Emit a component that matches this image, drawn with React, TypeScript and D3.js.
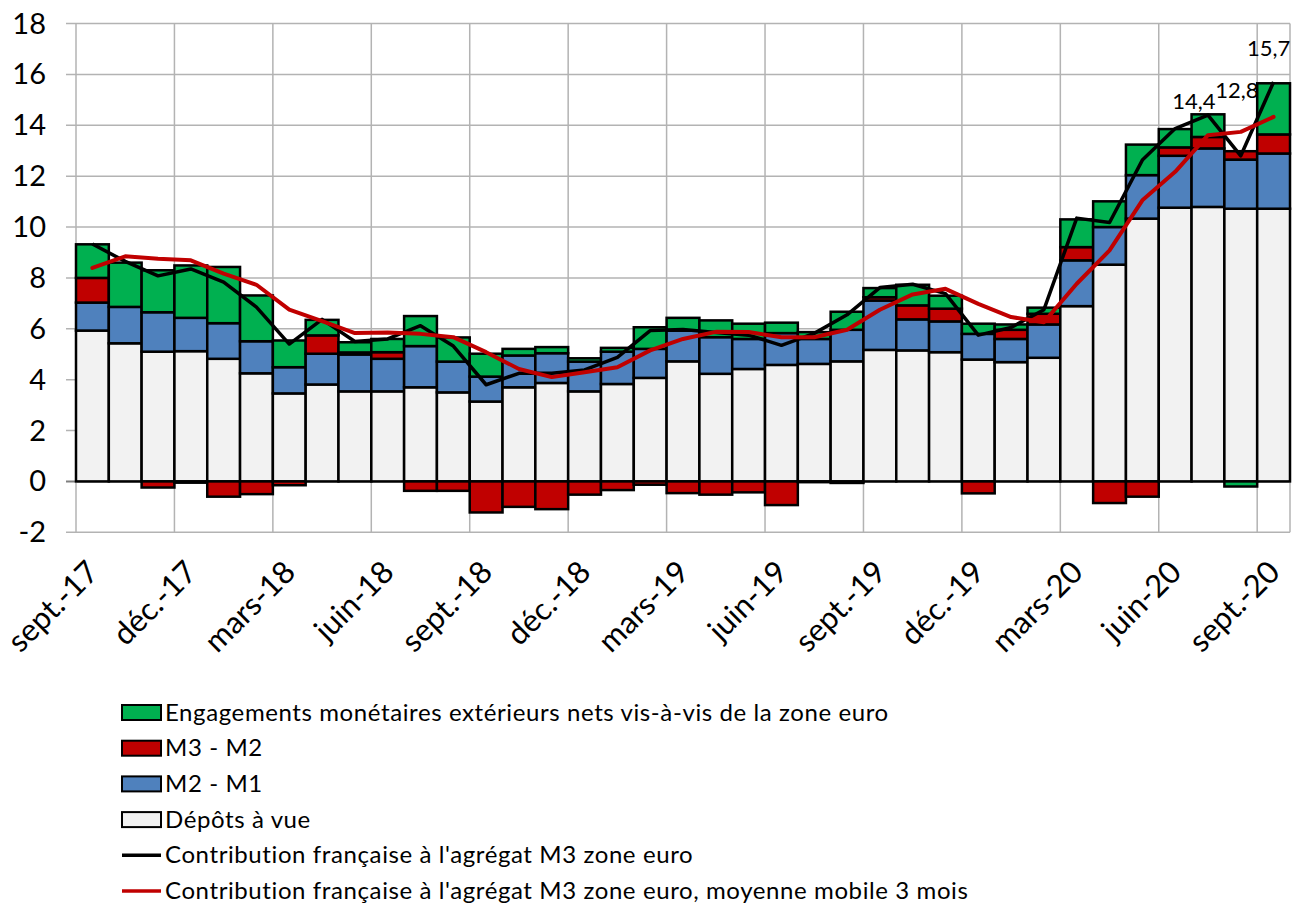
import * as d3 from 'd3';

const months = [
  'sept.-17', 'oct.-17', 'nov.-17', 'déc.-17', 'janv.-18', 'févr.-18', 'mars-18', 'avr.-18', 'mai-18',
  'juin-18', 'juil.-18', 'août-18', 'sept.-18', 'oct.-18', 'nov.-18', 'déc.-18', 'janv.-19', 'févr.-19',
  'mars-19', 'avr.-19', 'mai-19', 'juin-19', 'juil.-19', 'août-19', 'sept.-19', 'oct.-19', 'nov.-19',
  'déc.-19', 'janv.-20', 'févr.-20', 'mars-20', 'avr.-20', 'mai-20', 'juin-20', 'juil.-20', 'août-20',
  'sept.-20',
];

const depots = [
  5.93, 5.43, 5.1, 5.12, 4.82, 4.25, 3.46, 3.81, 3.54, 3.54, 3.7, 3.5, 3.14, 3.7, 3.87, 3.54, 3.83, 4.07,
  4.72, 4.23, 4.42, 4.58, 4.62, 4.72, 5.17, 5.15, 5.08, 4.79, 4.69, 4.86, 6.89, 8.52, 10.33, 10.76, 10.79,
  10.72, 10.72,
];
const m2m1 = [
  1.1, 1.43, 1.55, 1.31, 1.4, 1.26, 1.03, 1.21, 1.45, 1.28, 1.62, 1.21, 0.98, 1.25, 1.17, 1.17, 1.27, 1.14,
  1.21, 1.44, 1.18, 1.25, 0.98, 1.24, 1.94, 1.22, 1.21, 1.01, 0.91, 1.31, 1.8, 1.48, 1.71, 2.04, 2.3, 1.93,
  2.17,
];
const m3m2 = [
  0.97, 0, -0.24, -0.05, -0.6, -0.5, -0.15, 0.72, 0.08, 0.26, -0.37, -0.37, -1.22, -1.0, -1.09, -0.52, -0.34,
  -0.13, -0.46, -0.52, -0.43, -0.93, -0.03, -0.06, 0.13, 0.55, 0.5, -0.47, 0.36, 0.42, 0.52, -0.85, -0.6,
  0.33, 0.45, 0.33, 0.75,
];
const engagements = [
  1.32, 1.74, 1.65, 2.06, 2.21, 1.8, 1.05, 0.61, 0.4, 0.52, 1.18, 0.95, 0.9, 0.26, 0.24, 0.13, 0.15, 0.85,
  0.5, 0.66, 0.6, 0.41, 0.27, 0.71, 0.36, 0.81, 0.51, 0.4, 0.21, 0.24, 1.09, 1.01, 1.2, 0.72, 0.89, -0.2,
  2.01,
];
const contribM3 = [
  9.33, 8.65, 8.08, 8.35, 7.83, 6.85, 5.4, 6.37, 5.5, 5.6, 6.12, 5.32, 3.8, 4.25, 4.25, 4.38, 4.88, 5.93,
  5.97, 5.85, 5.75, 5.35, 5.82, 6.55, 7.62, 7.75, 7.38, 5.75, 6.05, 6.75, 10.35, 10.18, 12.63, 13.87, 14.4,
  12.8, 15.7,
];
const moyenne3m = [
  8.39, 8.85, 8.75, 8.69, 8.17, 7.73, 6.75, 6.3, 5.83, 5.85, 5.8, 5.67, 5.08, 4.42, 4.1, 4.29, 4.49, 5.15,
  5.6, 5.88, 5.87, 5.67, 5.67, 5.96, 6.75, 7.35, 7.57, 6.98, 6.46, 6.26, 7.77, 9.08, 11.05, 12.17, 13.61,
  13.74, 14.33,
];
const yTicks = [-2, 0, 2, 4, 6, 8, 10, 12, 14, 16, 18];
const labelled = [
  { i: 34, text: '14,4', dx: -14, dy: -6 },
  { i: 35, text: '12,8', dx: -4, dy: -58 },
  { i: 36, text: '15,7', dx: -5, dy: -26 },
];

const series = [
  { key: 'depots', values: depots, color: '#f2f2f2', label: 'Dépôts à vue' },
  { key: 'm2m1', values: m2m1, color: '#4f81bd', label: 'M2 - M1' },
  { key: 'm3m2', values: m3m2, color: '#c00000', label: 'M3 - M2' },
  { key: 'eng', values: engagements, color: '#00b050', label: 'Engagements monétaires extérieurs nets vis-à-vis de la zone euro' },
];

const FONT = 'Lato, "Open Sans", sans-serif';

export default function App() {
  const width = 1298;
  const height = 907;
  const left = 76;
  const right = 1290;
  const top = 23.5;
  const bottom = 532.3;

  const x = d3.scaleBand().domain(months).range([left, right]).padding(0);
  const y = d3.scaleLinear().domain([-2, 18]).range([bottom, top]);
  const bw = x.bandwidth();

  // stack positives up and negatives down, in series order
  const rects: { x: number; y0: number; y1: number; color: string; k: string }[] = [];
  months.forEach((m, i) => {
    let pos = 0;
    let neg = 0;
    series.forEach((s) => {
      const v = s.values[i];
      if (v === 0) return;
      if (v > 0) {
        rects.push({ x: x(m)!, y0: pos, y1: pos + v, color: s.color, k: s.key + i });
        pos += v;
      } else {
        rects.push({ x: x(m)!, y0: neg + v, y1: neg, color: s.color, k: s.key + i });
        neg += v;
      }
    });
  });

  const cx = (i: number) => x(months[i])! + bw / 2;
  const line = d3
    .line<number>()
    .x((_, i) => cx(i))
    .y((d) => y(d));

  const vGrid = months.map((_, i) => i).filter((i) => i % 3 === 0).map((i) => x(months[i])!);
  vGrid.push(right);

  const legendRows = [
    { type: 'rect', color: '#00b050', label: series[3].label },
    { type: 'rect', color: '#c00000', label: 'M3 - M2' },
    { type: 'rect', color: '#4f81bd', label: 'M2 - M1' },
    { type: 'rect', color: '#f2f2f2', label: 'Dépôts à vue' },
    { type: 'line', color: '#000000', label: "Contribution française à l'agrégat M3 zone euro" },
    { type: 'line', color: '#c00000', label: "Contribution française à l'agrégat M3 zone euro, moyenne mobile 3 mois" },
  ];

  return (
    <svg
      width={width}
      height={height}
      style={{ position: 'absolute', left: 0, top: 0, background: '#fff' }}
      fontFamily={FONT}
    >
      {/* grid */}
      {yTicks.map((t) => (
        <line key={'h' + t} x1={66} x2={right} y1={y(t)} y2={y(t)} stroke={t === 0 ? '#7f7f7f' : '#b3b3b3'} strokeWidth={t === 0 ? 2 : 1.5} />
      ))}
      {vGrid.map((gx, i) => (
        <line key={'v' + i} x1={gx} x2={gx} y1={top} y2={bottom} stroke="#b3b3b3" strokeWidth={1.5} />
      ))}
      {yTicks.map((t) => (
        <text key={'yt' + t} x={46} y={y(t) + 10} textAnchor="end" fontSize={29} fill="#000">
          {t}
        </text>
      ))}

      {/* bars */}
      {rects.map((r) => (
        <rect
          key={r.k}
          x={r.x}
          width={bw}
          y={y(r.y1)}
          height={y(r.y0) - y(r.y1)}
          fill={r.color}
          stroke="#000"
          strokeWidth={2.5}
        />
      ))}

      {/* lines */}
      <path d={line(contribM3)!} fill="none" stroke="#000" strokeWidth={3.5} strokeLinejoin="round" />
      <path d={line(moyenne3m)!} fill="none" stroke="#c00000" strokeWidth={4} strokeLinejoin="round" strokeLinecap="round" />

      {labelled.map((l) => (
        <text key={l.text} x={cx(l.i) + l.dx} y={y(contribM3[l.i]) + l.dy} textAnchor="middle" fontSize={22} fill="#000">
          {l.text}
        </text>
      ))}

      {/* x labels */}
      {months.map((m, i) =>
        i % 3 === 0 ? (
          <text
            key={'xl' + m}
            transform={`translate(${cx(i) + 8},${574}) rotate(-45)`}
            textAnchor="end"
            fontSize={31}
            fill="#000"
          >
            {m}
          </text>
        ) : null,
      )}

      {/* legend */}
      {legendRows.map((r, i) => {
        const cy = 712.5 + i * 35.7;
        return (
          <g key={'lg' + i}>
            {r.type === 'rect' ? (
              <rect x={122} y={cy - 7.5} width={39} height={15} fill={r.color} stroke="#000" strokeWidth={2} />
            ) : (
              <line x1={122} x2={161} y1={cy} y2={cy} stroke={r.color} strokeWidth={3.5} />
            )}
            <text x={165} y={cy + 8} fontSize={24} letterSpacing={0.6} fill="#000">
              {r.label}
            </text>
          </g>
        );
      })}
    </svg>
  );
}
